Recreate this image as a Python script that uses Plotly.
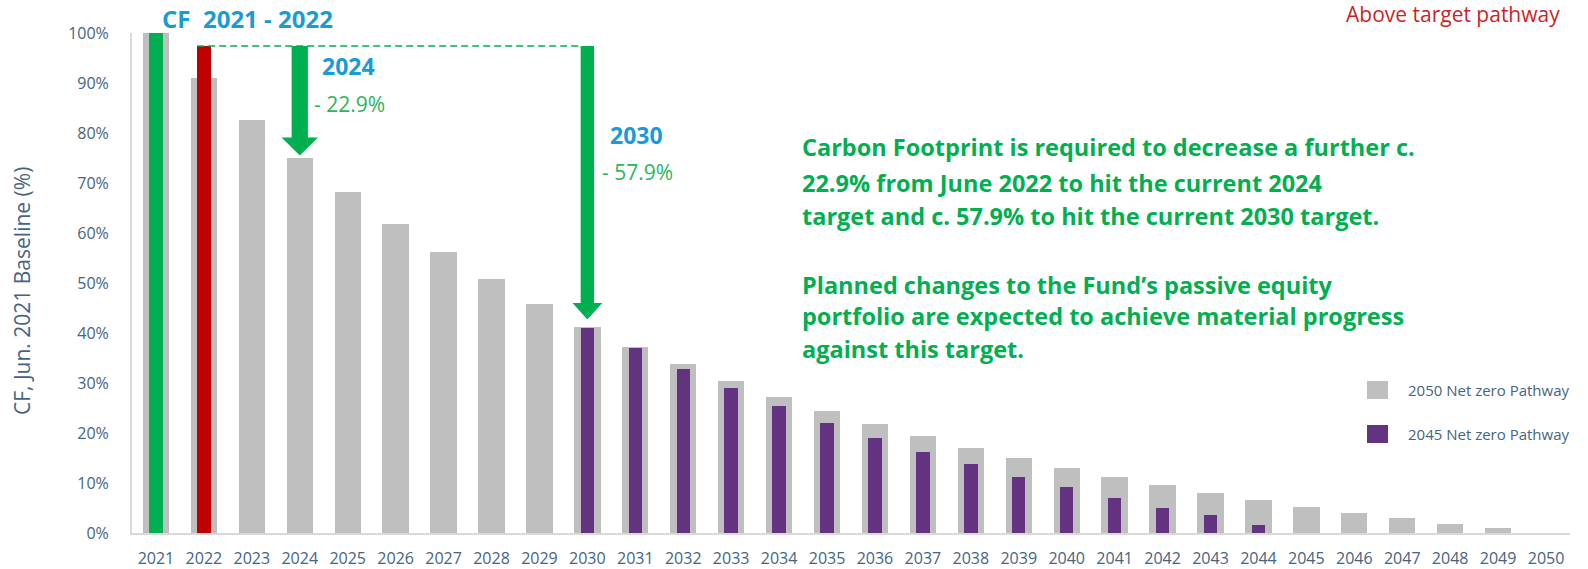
import plotly.graph_objects as go

years = list(range(2021, 2051))
tick_labels = [str(y) for y in years]

# 2050 Net zero pathway (% of Jun. 2021 baseline)
path_2050 = [100, 91.0, 82.7, 75.1, 68.2, 61.9, 56.2, 50.9, 45.9, 41.3,
             37.2, 33.8, 30.4, 27.3, 24.4, 21.8, 19.4, 17.1, 15.1, 13.1,
             11.3, 9.6, 8.1, 6.6, 5.3, 4.1, 3.0, 1.9, 1.1, 0.0]
# 2045 Net zero pathway
path_2045_years = list(range(2030, 2045))
path_2045 = [41.0, 37.0, 32.9, 29.1, 25.5, 22.1, 19.0, 16.3, 13.9, 11.3,
             9.2, 7.0, 5.1, 3.6, 1.6]
# Carbon footprint actuals
cf_years = [2021, 2022]
cf_values = [100.0, 97.4]
cf_colors = ["#00B050", "#C00000"]

GRAY = "#BFBFBF"
PURPLE = "#633382"
GREEN = "#00B050"
LGREEN = "#2DB55A"
BLUE = "#1A9BD7"
AXTXT = "#46647F"
FONT = "Open Sans"

fig = go.Figure()
fig.add_trace(go.Bar(x=years, y=path_2050, width=0.55, marker_color=GRAY,
                     marker_line_width=0, name="2050 Net zero Pathway"))
fig.add_trace(go.Bar(x=path_2045_years, y=path_2045, width=0.28, marker_color=PURPLE,
                     marker_line_width=0, name="2045 Net zero Pathway"))
fig.add_trace(go.Bar(x=cf_years, y=cf_values, width=0.28, marker_color=cf_colors,
                     marker_line_width=0, name="CF"))

shapes = []
annotations = []

cf_now = cf_values[1]
# dashed reference line from CF 2022 to 2030
shapes.append(dict(type="line", xref="x", yref="y", x0=2022 - 0.14, x1=2030 - 0.15,
                   y0=cf_now, y1=cf_now, line=dict(color=GREEN, width=1.6, dash="7px,4px")))


def arrow(year, tip, shaft_w, head_w, head_h):
    top = cf_now
    hs = shaft_w / 2
    hh = head_w / 2
    p = (f"M {year-hs},{top} L {year+hs},{top} L {year+hs},{tip+head_h} "
         f"L {year+hh},{tip+head_h} L {year},{tip} L {year-hh},{tip+head_h} "
         f"L {year-hs},{tip+head_h} Z")
    shapes.append(dict(type="path", xref="x", yref="y", path=p,
                       fillcolor=GREEN, line=dict(width=0)))


t2024 = path_2050[years.index(2024)]
t2030 = path_2045[0]
arrow(2024, t2024 + 0.4, 0.34, 0.76, 3.6)
arrow(2030, t2030 + 1.7, 0.28, 0.62, 3.3)

red_pct_2024 = (cf_now - t2024) / cf_now * 100
red_pct_2030 = (cf_now - t2030) / cf_now * 100

annotations += [
    dict(x=2024 + 0.42, y=93.4, xref="x", yref="y", text="<b>2024</b>", showarrow=False,
         xanchor="left", yanchor="middle", font=dict(family=FONT, size=23, color=BLUE)),
    dict(x=2024 + 0.26, y=85.8, xref="x", yref="y", text=f"- {red_pct_2024:.1f}%", showarrow=False,
         xanchor="left", yanchor="middle", font=dict(family=FONT, size=21, color=LGREEN)),
    dict(x=2030 + 0.42, y=79.7, xref="x", yref="y", text="<b>2030</b>", showarrow=False,
         xanchor="left", yanchor="middle", font=dict(family=FONT, size=23, color=BLUE)),
    dict(x=2030 + 0.26, y=72.3, xref="x", yref="y", text=f"- {red_pct_2030:.1f}%", showarrow=False,
         xanchor="left", yanchor="middle", font=dict(family=FONT, size=21, color=LGREEN)),
    dict(x=(247 - 132) / 1438, y=1.028, xref="paper", yref="paper", text="<b>CF  2021 - 2022</b>",
         showarrow=False, xanchor="center", yanchor="middle",
         font=dict(family=FONT, size=24, color=BLUE)),
    dict(x=(1562 - 132) / 1438, y=(533 - 14) / 500, xref="paper", yref="paper",
         text="Above target pathway", showarrow=False, xanchor="right", yanchor="middle",
         font=dict(family=FONT, size=21, color="#CC1F26")),
    dict(x=(22 - 132) / 1438, y=(533 - 291) / 500, xref="paper", yref="paper",
         text="CF, Jun. 2021 Baseline (%)", showarrow=False, textangle=-90,
         xanchor="center", yanchor="middle", font=dict(family=FONT, size=21, color=AXTXT)),
]

text_lines = [
    ("Carbon Footprint is required to decrease a further c.", 146.5),
    ("22.9% from June 2022 to hit the current 2024", 182.5),
    ("target and c. 57.9% to hit the current 2030 target.", 216),
    ("Planned changes to the Fund\u2019s passive equity", 284.5),
    ("portfolio are expected to achieve material progress", 315.5),
    ("against this target.", 348.5),
]
for txt, py in text_lines:
    annotations.append(dict(x=(800 - 132) / 1438, y=(533 - py) / 500, xref="paper", yref="paper",
                            text=f"<b>{txt}</b>", showarrow=False, xanchor="left", yanchor="middle",
                            font=dict(family=FONT, size=23.5, color=GREEN)))

# legend (manual)
legend_items = [("2050 Net zero Pathway", GRAY, 390), ("2045 Net zero Pathway", PURPLE, 434)]
for name, col, py in legend_items:
    shapes.append(dict(type="rect", xref="paper", yref="paper",
                       x0=(1367 - 132) / 1438, x1=(1388 - 132) / 1438,
                       y0=(533 - py - 9) / 500, y1=(533 - py + 9) / 500,
                       fillcolor=col, line=dict(width=0)))
    annotations.append(dict(x=(1406 - 132) / 1438, y=(533 - py) / 500, xref="paper", yref="paper",
                            text=name, showarrow=False, xanchor="left", yanchor="middle",
                            font=dict(family=FONT, size=15, color=AXTXT)))

fig.update_layout(
    width=1588, height=569,
    margin=dict(l=132, r=18, t=33, b=36, autoexpand=False),
    paper_bgcolor="white", plot_bgcolor="white",
    barmode="overlay", bargap=0, showlegend=False,
    shapes=shapes, annotations=annotations,
    font=dict(family=FONT, color=AXTXT),
)
fig.update_xaxes(range=[2020.5, 2050.5], tickvals=years, ticktext=tick_labels, automargin=False,
                 showgrid=False, zeroline=False, showline=True, linecolor="#D9D9D9", linewidth=2,
                 ticks="", tickfont=dict(family=FONT, size=16, color=AXTXT), ticklabelstandoff=10)
fig.update_yaxes(range=[0, 100], tickvals=list(range(0, 101, 10)), automargin=False,
                 ticktext=[f"{v}%" for v in range(0, 101, 10)],
                 showgrid=False, zeroline=False, showline=True, linecolor="#D9D9D9", linewidth=2,
                 ticks="", tickfont=dict(family=FONT, size=16, color=AXTXT), ticklabelstandoff=18)

fig.write_html("out.html", config={"displayModeBar": False},
               post_script="document.body.style.margin='0';document.body.style.overflow='hidden';")
